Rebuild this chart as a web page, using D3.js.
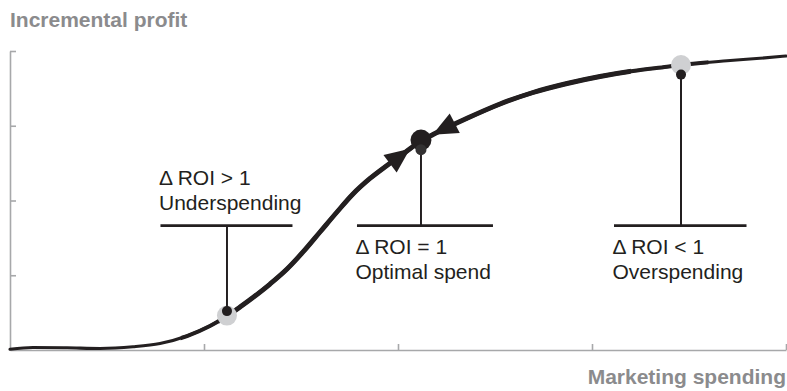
<!DOCTYPE html>
<html><head><meta charset="utf-8">
<script src="https://cdn.jsdelivr.net/npm/d3@7"></script>
<style>body{margin:0;background:#fff}svg{display:block}</style>
</head><body>
<svg id="c" width="787" height="391"></svg>
<script>
// ---- data ----
const spend  = [0,2.96,7.35,11.6,15.85,19.33,22.81,25.77,27.96,29.64,31.31,33.51,35.70,37.76,39.95,42.14,44.20,46.39,48.58,50.90,52.96,54.51,58.89,63.14,67.40,71.78,76.03,80.28,84.66,86.47,92.40,96.65,100];
const profit = [0.23,0.84,0.74,0.50,1.07,2.17,4.68,8.03,11.37,14.38,17.56,22.07,27.09,32.78,39.46,46.15,52.17,57.36,61.71,66.05,69.90,72.07,77.49,82.27,86.12,89.13,91.47,93.31,94.72,95.32,96.72,97.56,98.33];
const xTicks = [25,50,75,100];
const yTicks = [25,50,75,100];
const markerSpend  = [27.96, 52.96, 86.47];
const markerProfit = [11.5, 70.2, 95.32];
const markerKind   = ["under","optimal","over"];
const labelLine1   = ["\u0394 ROI > 1","\u0394 ROI = 1","\u0394 ROI < 1"];
const labelLine2   = ["Underspending","Optimal spend","Overspending"];
const arrowSpend   = [51.55, 54.45];
const arrowDir     = [1, -1];
const yTitle = "Incremental profit";
const xTitle = "Marketing spending";

// ---- layout ----
const svg = d3.select("#c");
const x = d3.scaleLinear().domain([0,100]).range([10,786]);
const y = d3.scaleLinear().domain([0,100]).range([350,51]);
const ink = "#231f20", axisCol = "#a7a8aa", titleCol = "#8b8b8d";
const font = "'Liberation Sans', Arial, Helvetica, sans-serif";

svg.append("g").attr("transform","translate(0,"+y(0)+")")
  .call(d3.axisBottom(x).tickValues(xTicks).tickSizeInner(-6).tickSizeOuter(0).tickFormat(""));
svg.append("g").attr("transform","translate("+x(0)+",0)")
  .call(d3.axisLeft(y).tickValues(yTicks).tickSizeInner(-6).tickSizeOuter(0).tickFormat(""));
svg.selectAll(".domain, .tick line").attr("stroke",axisCol).attr("stroke-width",1.6);

svg.append("text").attr("x",10).attr("y",27).text(yTitle)
  .attr("font-family",font).attr("font-weight","bold").attr("font-size",21).attr("fill",titleCol);
svg.append("text").attr("x",786).attr("y",384).attr("text-anchor","end").text(xTitle)
  .attr("font-family",font).attr("font-weight","bold").attr("font-size",21).attr("fill",titleCol);

// curve
const pts = spend.map((s,i)=>[s,profit[i]]);
const line = d3.line().x(d=>x(d[0])).y(d=>y(d[1])).curve(d3.curveMonotoneX);
const defs = svg.append("defs");
defs.append("clipPath").attr("id","c1").append("rect").attr("x",x(22)).attr("y",0).attr("width",x(90)-x(22)).attr("height",391);
defs.append("clipPath").attr("id","c2").append("rect").attr("x",x(27)).attr("y",0).attr("width",x(80)-x(27)).attr("height",391);
const curvePath = svg.append("path").datum(pts).attr("d",line).attr("fill","none").attr("stroke",ink)
  .attr("stroke-width",3.1).attr("stroke-linecap","round").attr("stroke-linejoin","round");
svg.append("path").datum(pts).attr("d",line).attr("fill","none").attr("stroke",ink)
  .attr("stroke-width",4).attr("clip-path","url(#c1)");
svg.append("path").datum(pts).attr("d",line).attr("fill","none").attr("stroke",ink)
  .attr("stroke-width",4.9).attr("clip-path","url(#c2)");

const node = curvePath.node(), total = node.getTotalLength();
function lenAtX(px){ let lo=0, hi=total; for(let k=0;k<40;k++){const m=(lo+hi)/2; if(node.getPointAtLength(m).x<px) lo=m; else hi=m;} return (lo+hi)/2; }

// callouts
const calloutLevel = 41.6;
const barL = [-66.5,-64,-67], barR = [65.5,72,65.5];
markerSpend.forEach((s,i)=>{
  const mx = x(s), my = y(markerProfit[i]);
  const by = y(calloutLevel);
  const kind = markerKind[i];
  if (kind !== "optimal") svg.append("circle").attr("cx",mx).attr("cy",my).attr("r",10).attr("fill","#cfd0d2");
  const dotY = kind==="under" ? my-4.5 : my+9.6;
  svg.append("line").attr("x1",mx).attr("x2",mx).attr("y1",dotY).attr("y2",by).attr("stroke",ink).attr("stroke-width",2);
  svg.append("line").attr("x1",mx+barL[i]).attr("x2",mx+barR[i]).attr("y1",by).attr("y2",by).attr("stroke",ink).attr("stroke-width",2.8);
  if (kind==="optimal") svg.append("circle").attr("cx",mx).attr("cy",my).attr("r",10.5).attr("fill",ink);
  svg.append("circle").attr("cx",mx).attr("cy",dotY).attr("r",kind==="optimal"?5.5:5).attr("fill",kind==="optimal"?"#333132":ink);
  const tx = mx+barL[i]-1.5;
  const t1 = kind==="under" ? by-41 : by+28, t2 = t1+25.5;
  [[labelLine1[i],t1],[labelLine2[i],t2]].forEach(([t,ty])=>{
    svg.append("text").attr("x",tx).attr("y",ty).text(t).attr("font-family",font).attr("font-size",21).attr("fill",ink);
  });
});

// arrows
arrowSpend.forEach((s,i)=>{
  const L = lenAtX(x(s));
  const p = node.getPointAtLength(L), a = node.getPointAtLength(L-3), b = node.getPointAtLength(L+3);
  let ux=b.x-a.x, uy=b.y-a.y; const n=Math.hypot(ux,uy); ux=ux/n*arrowDir[i]; uy=uy/n*arrowDir[i];
  const len=25, w=22;
  const bx=p.x-ux*len, byy=p.y-uy*len, nx=-uy, ny=ux;
  svg.append("path").attr("d",`M${p.x},${p.y}L${bx+nx*w/2},${byy+ny*w/2}L${bx-nx*w/2},${byy-ny*w/2}Z`).attr("fill",ink);
});
</script>
</body></html>
